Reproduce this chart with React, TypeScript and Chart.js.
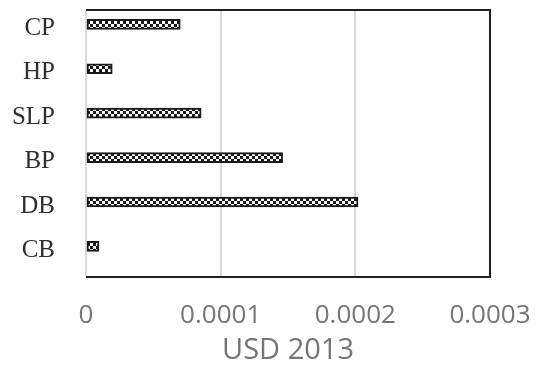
import React, { useEffect, useRef } from "react";
import { Chart, registerables } from "chart.js";

Chart.register(...registerables);

const categories = ["CP", "HP", "SLP", "BP", "DB", "CB"];
const costValues = [0.00007, 0.0000195, 0.0000855, 0.000146, 0.000202, 0.0000096];
const xTicks = [0, 0.0001, 0.0002, 0.0003];
const xTitle = "USD 2013";

function makePattern(): CanvasPattern | string {
  const c = document.createElement("canvas");
  c.width = 6;
  c.height = 6;
  const g = c.getContext("2d");
  if (!g) return "#222";
  g.fillStyle = "#ffffff";
  g.fillRect(0, 0, 6, 6);
  g.fillStyle = "#1a1a1a";
  g.fillRect(0, 0, 3, 3);
  g.fillRect(3, 3, 3, 3);
  return g.createPattern(c, "repeat") || "#222";
}

const framePlugin = {
  id: "frame",
  afterDatasetsDraw(chart: any) {
    const { ctx, chartArea } = chart;
    const { left, right, top, bottom } = chartArea;
    ctx.save();
    ctx.strokeStyle = "#1f1f1f";
    ctx.lineWidth = 2;
    ctx.beginPath();
    ctx.moveTo(left, top);
    ctx.lineTo(right, top);
    ctx.lineTo(right, bottom);
    ctx.lineTo(left, bottom);
    ctx.stroke();
    ctx.restore();
  },
};

export default function App() {
  const ref = useRef<HTMLCanvasElement | null>(null);

  useEffect(() => {
    document.body.style.margin = "0";
    if (!ref.current) return;
    const pattern = makePattern();
    const chart = new Chart(ref.current, {
      type: "bar",
      data: {
        datasets: [
          {
            data: categories.map((c, i) => ({ x: costValues[i], y: i })),
            backgroundColor: pattern as any,
            borderColor: "#1a1a1a",
            borderWidth: 2,
            borderSkipped: false,
            barThickness: 10,
          },
        ],
      },
      options: {
        indexAxis: "y",
        animation: false,
        responsive: true,
        maintainAspectRatio: false,
        layout: { padding: { top: 10, right: 52, bottom: 0, left: 0 } },
        plugins: {
          legend: { display: false },
          tooltip: { enabled: false },
        },
        scales: {
          x: {
            type: "linear",
            min: xTicks[0],
            max: xTicks[xTicks.length - 1],
            afterBuildTicks: (s: any) => {
              s.ticks = xTicks.map((v) => ({ value: v }));
            },
            afterFit: (s: any) => {
              s.height = 93;
              s.paddingLeft = 0;
              s.paddingRight = 0;
            },
            grid: { color: "#d9d9d9", lineWidth: 2, drawTicks: false },
            border: { display: false },
            ticks: {
              padding: 23,
              color: "#757575",
              font: { family: "'Open Sans'", size: 26 },
              callback: (v: any) => (Number(v) === 0 ? "0" : Number(v).toFixed(4)),
            },
            title: {
              display: true,
              text: xTitle,
              color: "#757575",
              font: { family: "'Open Sans'", size: 29 },
              padding: { top: 0, bottom: 2 },
            },
          },
          y: {
            type: "linear",
            offset: false,
            reverse: true,
            min: -0.322,
            max: 5.689,
            afterBuildTicks: (s: any) => {
              s.ticks = categories.map((_, i) => ({ value: i }));
            },
            afterFit: (s: any) => {
              s.width = 86;
              s.paddingTop = 0;
              s.paddingBottom = 0;
            },
            grid: { display: false, drawTicks: false },
            border: { display: false },
            ticks: {
              padding: 31,
              labelOffset: 4,
              color: "#2e2e2e",
              font: { family: "'Liberation Serif'", size: 25 },
              callback: (v: any) => categories[Math.round(Number(v))] ?? "",
            },
          },
        },
      },
      plugins: [framePlugin],
    });
    return () => chart.destroy();
  }, []);

  return (
    <div style={{ position: "fixed", left: 0, top: 0, width: 542, height: 370 }}>
      <canvas ref={ref} />
    </div>
  );
}
